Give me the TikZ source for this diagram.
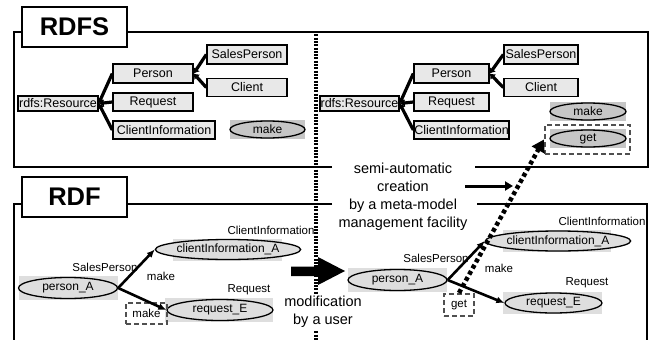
\documentclass[tikz,border=0pt]{standalone}
\usepackage{fontspec}
\setmainfont{Liberation Sans}
\usetikzlibrary{shapes.geometric,arrows.meta}
\definecolor{boxgray}{HTML}{E8E8E8}
\definecolor{ellgray}{HTML}{C6C6C6}
\definecolor{instgray}{HTML}{DEDEDE}
\definecolor{dashgray}{HTML}{505050}

\begin{document}
\begin{tikzpicture}[x=1pt,y=-1pt,
  frame/.style={line width=2.5pt},
  titlebox/.style={draw, fill=white, line width=2.5pt, inner sep=0pt,
    minimum width=105, minimum height=40, font=\fontsize{25.5}{28}\bfseries\selectfont},
  cls/.style n args={2}{draw, fill=boxgray, line width=1.4pt, inner sep=0pt,
    minimum width=#1, minimum height=#2, font=\fontsize{12.5}{14}\selectfont},
  bgrect/.style n args={3}{fill=#1, inner sep=0pt, minimum width=#2, minimum height=#3},
  ell/.style n args={3}{ellipse, draw, fill=#1, line width=1.3pt, inner sep=0pt,
    minimum width=#2, minimum height=#3, font=\fontsize{12}{14}\selectfont},
  lbl/.style={inner sep=0pt, font=\fontsize{11.5}{13}\selectfont},
  dbox/.style n args={2}{draw=dashgray, line width=2.2pt, dash pattern=on 5pt off 3pt,
    inner sep=0pt, minimum width=#1, minimum height=#2, font=\fontsize{11.5}{13}\selectfont},
  tree/.style={line width=3.2pt, {Latex[length=5pt,width=8pt]}-},
  rel/.style={line width=2.6pt, -{Latex[length=8pt,width=7pt]}},
  bigtext/.style={align=center, inner sep=0pt, font=\fontsize{14.5}{18}\selectfont}]

\useasboundingbox (0,0) rectangle (652,340);

% ---------- frames ----------
\draw[frame] (332,167) -- (14,167) -- (14,32) -- (648,32) -- (648,167) -- (475,167);
\draw[frame] (332,204) -- (14,204) -- (14,340);
\draw[frame] (477,204) -- (647,204) -- (647,340);
\node[titlebox] (rdfsT) at (74.5,27) {RDFS};
\node[titlebox] (rdfT) at (74.5,197) {RDF};

% ---------- schema, before ----------
\node[cls={80}{15}] (resA) at (58,103.5) {rdfs:Resource};
\node[cls={80}{19}] (perA) at (153,73.5) {Person};
\node[cls={80}{18}] (reqA) at (153,102) {Request};
\node[cls={102}{18}] (ciA) at (164,130) {ClientInformation};
\node[cls={80}{19}] (spA) at (247,54.5) {SalesPerson};
\node[cls={80}{18}] (clA) at (247,87.5) {Client};
\draw[tree] (resA.east) -- (perA.west);
\draw[tree] (resA.east) -- (reqA.west);
\draw[tree] (resA.east) -- (ciA.west);
\draw[tree] (perA.east) -- (spA.west);
\draw[tree] (perA.east) -- (clA.west);
\node[bgrect={ellgray}{75}{19}] (mkAbg) at (267.5,129.5) {};
\node[ell={ellgray}{75}{17}] (mkA) at (267.5,129.5) {make};

% ---------- schema, after ----------
\node[cls={79}{15}] (resB) at (359.5,103.5) {rdfs:Resource};
\node[cls={75}{19}] (perB) at (451.5,73.5) {Person};
\node[cls={75}{18}] (reqB) at (451.5,102) {Request};
\node[cls={95}{18}] (ciB) at (461.5,130) {ClientInformation};
\node[cls={74}{19}] (spB) at (541,54.5) {SalesPerson};
\node[cls={74}{18}] (clB) at (541,87.5) {Client};
\draw[tree] (resB.east) -- (perB.west);
\draw[tree] (resB.east) -- (reqB.west);
\draw[tree] (resB.east) -- (ciB.west);
\draw[tree] (perB.east) -- (spB.west);
\draw[tree] (perB.east) -- (clB.west);
\node[bgrect={ellgray}{76}{19}] (mkBbg) at (588,111.5) {};
\node[ell={ellgray}{76}{17}] (mkB) at (588,111.5) {make};
\node[bgrect={ellgray}{76}{19}] (getBbg) at (588,138.5) {};
\node[ell={ellgray}{76}{17}] (getB) at (588,138.5) {get};
\node[dbox={85}{29}] (getBox) at (587.5,139.5) {};

% ---------- separator and user modification ----------
\draw[line width=3.5pt, white] (316,31) -- (316,340);
\fill (291,266.5) -- (318,266.5) -- (318,257) -- (345,271) -- (318,285) -- (318,276) -- (291,276) -- cycle;
\draw[line width=3.5pt, dash pattern=on 2pt off 1.3pt] (316,31) -- (316,340);
\node[bigtext, fill=white, inner sep=2pt] (modif) at (323,312) {modification\\by a user};

% ---------- instances, before ----------
\node[bgrect={instgray}{99}{24}] (paAbg) at (68,288) {};
\node[ell={instgray}{99}{21}] (paA) at (68,288) {person\_A};
\node[bgrect={instgray}{109}{22}] (ciaAbg) at (227,249.5) {};
\node[ell={instgray}{107}{20}] (ciaA) at (228,249.5) {clientInformation\_A};
\node[bgrect={instgray}{108}{24}] (reAbg) at (219,310) {};
\node[ell={instgray}{106}{21}] (reA) at (220,310) {request\_E};
\node[lbl] (lspA) at (105,267) {SalesPerson};
\node[lbl] (lciA) at (271,230) {ClientInformation};
\node[lbl] (lrqA) at (249,290) {Request};
\node[lbl] (lmkA) at (161,276) {make};
\node[dbox={41}{21}] (dmkA) at (146.5,313.5) {make};
\draw[rel] (paA.east) -- (ciaA.west);
\draw[rel] (paA.east) -- (reA.west);

% ---------- instances, after ----------
\node[bgrect={instgray}{99}{24}] (paBbg) at (397.5,280) {};
\node[ell={instgray}{99}{21}] (paB) at (397.5,280) {person\_A};
\node[bgrect={instgray}{108}{22}] (ciaBbg) at (557,241) {};
\node[ell={instgray}{106}{20}] (ciaB) at (558,241) {clientInformation\_A};
\node[bgrect={instgray}{99}{22}] (reBbg) at (552.5,303) {};
\node[ell={instgray}{97}{20}] (reB) at (553.5,303) {request\_E};
\node[lbl] (lspB) at (436,258) {SalesPerson};
\node[lbl] (lciB) at (602,221) {ClientInformation};
\node[lbl] (lrqB) at (587,283) {Request};
\node[lbl] (lmkB) at (499,268) {make};
\node[dbox={30}{22}] (dgtB) at (459,305) {get};

% ---------- meta-model facility ----------
\draw[line width=4.5pt, dash pattern=on 4pt off 3pt,
      -{Triangle[length=12pt,width=14pt]}] (dgtB.north) -- (getBox.west);
\draw[rel] (paB.east) -- (ciaB.west);
\draw[rel] (paB.east) -- (reB.west);
\node[bigtext] (semi) at (403,197) {semi-automatic\\creation\\by a meta-model\\management facility};
\coordinate (arrS) at (465,186);
\coordinate (arrE) at (513,186);
\draw[line width=3pt, -{Triangle[length=8pt,width=9pt]}] (arrS) -- (arrE);

\end{tikzpicture}
\end{document}
